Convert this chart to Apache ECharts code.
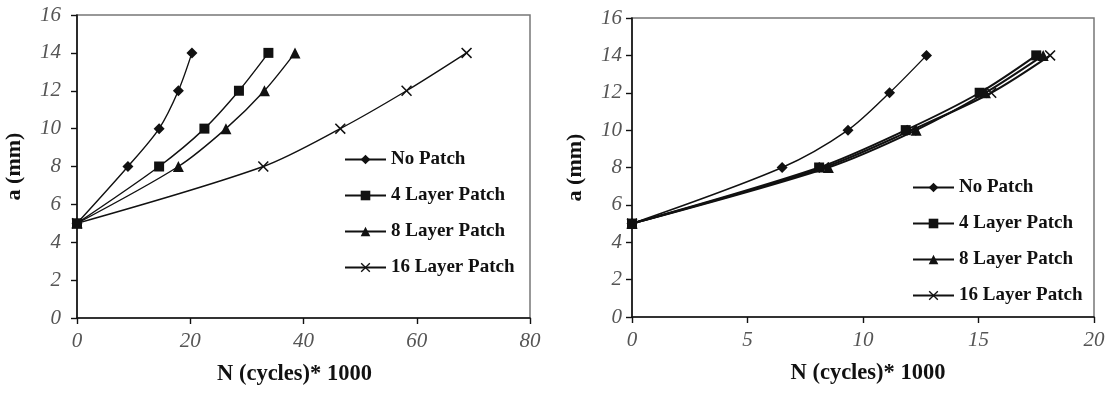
<!DOCTYPE html>
<html><head><meta charset="utf-8">
<script src="https://cdn.jsdelivr.net/npm/echarts@6/dist/echarts.min.js"></script>
<style>html,body{margin:0;padding:0;background:#fff}#chart{width:1109px;height:396px}</style>
</head><body><div id="chart"></div>
<script>
// Crack length a (mm) against load cycles N (x1000)
const seriesNames = ['No Patch', '4 Layer Patch', '8 Layer Patch', '16 Layer Patch'];

// Left panel
const leftNoPatch = [[0, 5], [9.0, 8], [14.5, 10], [17.9, 12], [20.3, 14]];
const left4Layer  = [[0, 5], [14.5, 8], [22.5, 10], [28.6, 12], [33.8, 14]];
const left8Layer  = [[0, 5], [17.9, 8], [26.3, 10], [33.1, 12], [38.5, 14]];
const left16Layer = [[0, 5], [32.9, 8], [46.5, 10], [58.2, 12], [68.8, 14]];

// Right panel
const rightNoPatch = [[0, 5], [6.5, 8], [9.35, 10], [11.15, 12], [12.75, 14]];
const right4Layer  = [[0, 5], [8.1, 8], [11.85, 10], [15.05, 12], [17.5, 14]];
const right8Layer  = [[0, 5], [8.5, 8], [12.3, 10], [15.3, 12], [17.8, 14]];
const right16Layer = [[0, 5], [8.3, 8], [12.1, 10], [15.55, 12], [18.1, 14]];

const leftXTicks = { min: 0, max: 80, interval: 20 };
const rightXTicks = { min: 0, max: 20, interval: 5 };
const yTicks = { min: 0, max: 16, interval: 2 };

const xTitle = 'N (cycles)* 1000';
const yTitle = 'a (mm)';

const crossPath = 'path://M0,1 L1,0 L5,4 L9,0 L10,1 L6,5 L10,9 L9,10 L5,6 L1,10 L0,9 L4,5 Z';
const symbols = ['diamond', 'rect', 'triangle', crossPath];
const symbolSizes = [11, 10, 11, 11];

const serif = 'Liberation Serif';
const ink = '#111';

function xAxis(grid, ticks, labelMargin, namePad) {
  return {
    type: 'value', gridIndex: grid, min: ticks.min, max: ticks.max, interval: ticks.interval,
    name: xTitle, nameLocation: 'middle', nameGap: 45,
    nameTextStyle: { fontFamily: serif, fontWeight: 'bold', fontSize: 22.5, color: ink, padding: namePad },
    axisLine: { show: true, lineStyle: { color: ink, width: 1.6 } },
    axisTick: { show: true, length: 6, inside: false, lineStyle: { color: ink, width: 1.4 } },
    axisLabel: { fontFamily: serif, fontStyle: 'italic', fontSize: 21, color: '#555', margin: labelMargin },
    splitLine: { show: false }
  };
}
function yAxis(grid, labelMargin, gap) {
  return {
    type: 'value', gridIndex: grid, min: yTicks.min, max: yTicks.max, interval: yTicks.interval,
    name: yTitle, nameLocation: 'middle', nameGap: gap, nameRotate: 90,
    nameTextStyle: { fontFamily: serif, fontWeight: 'bold', fontSize: 22, color: ink },
    axisLine: { show: true, lineStyle: { color: ink, width: 1.6 } },
    axisTick: { show: true, length: 6, inside: false, lineStyle: { color: ink, width: 1.4 } },
    axisLabel: { fontFamily: serif, fontStyle: 'italic', fontSize: 21, color: '#555', margin: labelMargin },
    splitLine: { show: false }
  };
}

function makeSeries(grid, datasets, width) {
  return datasets.map((d, i) => ({
    name: seriesNames[i], type: 'line', xAxisIndex: grid, yAxisIndex: grid,
    data: d, smooth: 0.3, symbol: symbols[i], symbolSize: symbolSizes[i],
    lineStyle: { color: ink, width: width[i] },
    itemStyle: { color: ink },
    emphasis: { disabled: true }, z: 3
  }));
}

function legend(left, top) {
  return {
    data: seriesNames, orient: 'vertical', left: left, top: top,
    itemWidth: 41, itemHeight: 12, itemGap: 17,
    textStyle: { fontFamily: serif, fontWeight: 'bold', fontSize: 19, color: ink, lineHeight: 19 },
    selectedMode: false
  };
}

const chart = echarts.init(document.getElementById('chart'), null, { renderer: 'canvas' });
chart.setOption({
  animation: false,
  backgroundColor: '#fff',
  grid: [
    { left: 77, top: 15, width: 453, height: 303, show: true, borderColor: '#777', borderWidth: 1.5, backgroundColor: 'transparent' },
    { left: 632, top: 18, width: 462, height: 299, show: true, borderColor: '#777', borderWidth: 1.5, backgroundColor: 'transparent' }
  ],
  xAxis: [xAxis(0, leftXTicks, 13, [0, 18, 0, 0]), xAxis(1, rightXTicks, 13, [0, 0, 0, 10])],
  yAxis: [yAxis(0, 16, 52), yAxis(1, 10, 46)],
  legend: [legend(339, 145), legend(907, 173)],
  series: [
    ...makeSeries(0, [leftNoPatch, left4Layer, left8Layer, left16Layer], [1.4, 1.4, 1.4, 1.4]),
    ...makeSeries(1, [rightNoPatch, right4Layer, right8Layer, right16Layer], [1.4, 2, 2, 2])
  ]
});
</script>
</body></html>
